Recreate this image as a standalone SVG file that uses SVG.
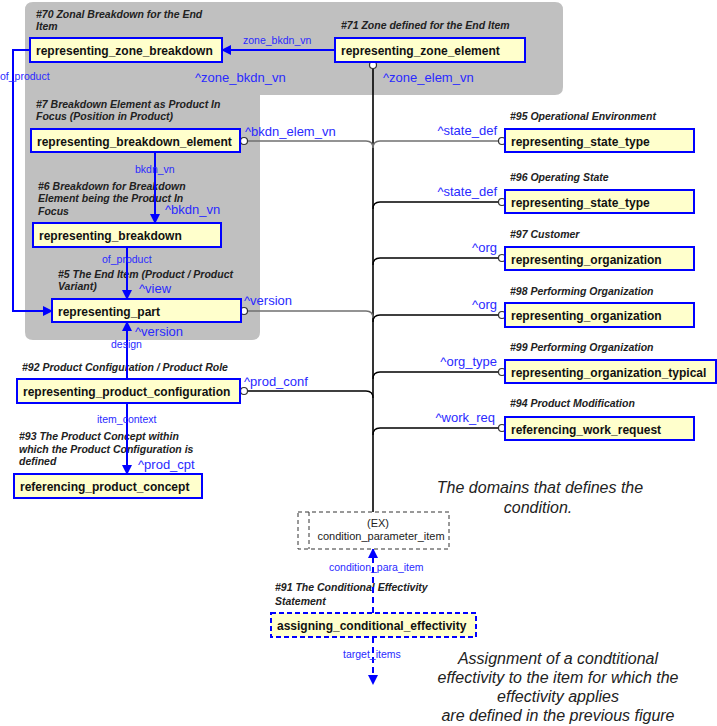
<svg xmlns="http://www.w3.org/2000/svg" width="717" height="726" viewBox="0 0 717 726">
<style>
.bg{fill:#c0c0c0}
.nd{fill:#ffffcc;stroke:#0000ff;stroke-width:2}
.ndd{fill:#ffffcc;stroke:#0000ff;stroke-width:2;stroke-dasharray:5,3}
.nt{font-family:"Liberation Sans",Arial,sans-serif;font-size:12px;font-weight:bold;fill:#111}
.hd{font-family:"Liberation Sans",Arial,sans-serif;font-size:10.5px;font-weight:bold;font-style:italic;fill:#222}
.bl{font-family:"Liberation Sans",Arial,sans-serif;font-size:13px;fill:#2a2aff}
.bs{font-family:"Liberation Sans",Arial,sans-serif;font-size:10.5px;fill:#2a2aff}
.ex{font-family:"Liberation Sans",Arial,sans-serif;font-size:11px;fill:#222}
.big{font-family:"Liberation Sans",Arial,sans-serif;font-size:16px;font-style:italic;fill:#222}
.ba{fill:none;stroke:#0000ff;stroke-width:2}
.bd{fill:none;stroke:#0000ff;stroke-width:2;stroke-dasharray:6,4}
.k{fill:none;stroke:#000;stroke-width:1.3}
.g{fill:none;stroke:#707070;stroke-width:1.5}
.c{fill:#fff;stroke:#333;stroke-width:1.2}
</style>
<defs>
<marker id="ah" markerWidth="10" markerHeight="10" refX="9" refY="5" orient="auto" markerUnits="userSpaceOnUse">
<path d="M0,0 L10,5 L0,10 Z" fill="#0000ff"/>
</marker>
</defs>
<path class="bg" d="M33,2 H555 Q563,2 563,10 V87 Q563,95 555,95 H260 V332 Q260,340 252,340 H33 Q25,340 25,332 V10 Q25,2 33,2 Z"/>
<text class="hd" x="36" y="18">#70 Zonal Breakdown for the End</text>
<text class="hd" x="36" y="30">Item</text>
<text class="hd" x="341" y="29">#71 Zone defined for the End Item</text>
<text class="hd" x="36" y="108">#7 Breakdown Element as Product In</text>
<text class="hd" x="36" y="120">Focus (Position in Product)</text>
<text class="hd" x="38" y="190">#6 Breakdown for Breakdown</text>
<text class="hd" x="38" y="202">Element being the Product In</text>
<text class="hd" x="38" y="215">Focus</text>
<text class="hd" x="58" y="278">#5 The End Item (Product / Product</text>
<text class="hd" x="58" y="290">Variant)</text>
<text class="hd" x="22" y="371">#92 Product Configuration / Product Role</text>
<text class="hd" x="19" y="440">#93 The Product Concept within</text>
<text class="hd" x="19" y="453">which the Product Configuration is</text>
<text class="hd" x="19" y="465">defined</text>
<text class="hd" x="510" y="120">#95 Operational Environment</text>
<text class="hd" x="510" y="181">#96 Operating State</text>
<text class="hd" x="510" y="238">#97 Customer</text>
<text class="hd" x="510" y="295">#98 Performing Organization</text>
<text class="hd" x="510" y="351">#99 Performing Organization</text>
<text class="hd" x="510" y="407">#94 Product Modification</text>
<text class="hd" x="275" y="591">#91 The Conditional Effectivity</text>
<text class="hd" x="275" y="605">Statement</text>
<g id="connectors">
<path class="ba" d="M335,50 H222" marker-end="url(#ah)"/>
<path class="ba" d="M30,50 H13 V311 H52" marker-end="url(#ah)"/>
<path class="ba" d="M155,152 V223" marker-end="url(#ah)"/>
<path class="ba" d="M127,247 V299" marker-end="url(#ah)"/>
<path class="ba" d="M127,379 V322" marker-end="url(#ah)"/>
<path class="ba" d="M127,403 V474" marker-end="url(#ah)"/>
<path class="k" style="stroke-width:1.6" d="M373,68.5 V512"/>
<circle class="c" cx="373" cy="65" r="3.5"/>
<path class="g" d="M247.5,141 H366 Q373,141 373,148"/>
<circle class="c" cx="244" cy="141" r="3.5"/>
<path class="g" d="M247.5,311 H366 Q373,311 373,318"/>
<circle class="c" cx="244" cy="311" r="3.5"/>
<path class="k" d="M247.5,391 H366 Q373,391 373,398"/>
<circle class="c" cx="244" cy="391" r="3.5"/>
<path class="g" d="M498.5,141 H380 Q373,141 373,148"/>
<circle class="c" cx="502" cy="141" r="3.5"/>
<path class="k" d="M498.5,202 H380 Q373,202 373,209"/>
<circle class="c" cx="502" cy="202" r="3.5"/>
<path class="k" d="M498.5,258 H380 Q373,258 373,265"/>
<circle class="c" cx="502" cy="258" r="3.5"/>
<path class="k" d="M498.5,315 H380 Q373,315 373,322"/>
<circle class="c" cx="502" cy="315" r="3.5"/>
<path class="k" d="M498.5,372 H380 Q373,372 373,379"/>
<circle class="c" cx="502" cy="372" r="3.5"/>
<path class="k" d="M498.5,428 H380 Q373,428 373,435"/>
<circle class="c" cx="502" cy="428" r="3.5"/>
<path class="bd" d="M373,613 V549" marker-end="url(#ah)"/>
<path class="bd" d="M373,637 V684" marker-end="url(#ah)"/>
<text class="bs" x="243" y="44">zone_bkdn_vn</text>
<text class="bl" x="195" y="82">^zone_bkdn_vn</text>
<text class="bl" x="383" y="82">^zone_elem_vn</text>
<text class="bs" x="0" y="80">of_product</text>
<text class="bl" x="245" y="136">^bkdn_elem_vn</text>
<text class="bs" x="135" y="173">bkdn_vn</text>
<text class="bl" x="165" y="214">^bkdn_vn</text>
<text class="bs" x="102" y="263">of_product</text>
<text class="bl" x="139" y="293">^view</text>
<text class="bl" x="244" y="305">^version</text>
<text class="bl" x="135" y="336">^version</text>
<text class="bs" x="111" y="348">design</text>
<text class="bl" x="244" y="386">^prod_conf</text>
<text class="bs" x="97" y="423">item_context</text>
<text class="bl" x="138" y="469">^prod_cpt</text>
<text class="bl" x="497" y="135" text-anchor="end">^state_def</text>
<text class="bl" x="497" y="196" text-anchor="end">^state_def</text>
<text class="bl" x="497" y="252" text-anchor="end">^org</text>
<text class="bl" x="497" y="309" text-anchor="end">^org</text>
<text class="bl" x="497" y="366" text-anchor="end">^org_type</text>
<text class="bl" x="495" y="422" text-anchor="end">^work_req</text>
<text class="bs" x="329" y="571">condition_para_item</text>
<text class="bs" x="343" y="658">target_items</text>
</g>
<g id="n70"><rect class="nd" x="30" y="38" width="192" height="24"/><text class="nt" x="36" y="55">representing_zone_breakdown</text></g>
<g id="n71"><rect class="nd" x="335" y="38" width="190" height="24"/><text class="nt" x="341" y="55">representing_zone_element</text></g>
<g id="n7"><rect class="nd" x="31" y="129" width="209" height="23"/><text class="nt" x="37" y="146">representing_breakdown_element</text></g>
<g id="n6"><rect class="nd" x="33" y="223" width="188" height="24"/><text class="nt" x="39" y="240">representing_breakdown</text></g>
<g id="n5"><rect class="nd" x="52" y="299" width="189" height="23"/><text class="nt" x="58" y="316">representing_part</text></g>
<g id="n92"><rect class="nd" x="17" y="379" width="223" height="24"/><text class="nt" x="23" y="396">representing_product_configuration</text></g>
<g id="n93"><rect class="nd" x="14" y="474" width="188" height="24"/><text class="nt" x="20" y="491">referencing_product_concept</text></g>
<g id="n95"><rect class="nd" x="505" y="129" width="189" height="23"/><text class="nt" x="511" y="146">representing_state_type</text></g>
<g id="n96"><rect class="nd" x="505" y="190" width="189" height="23"/><text class="nt" x="511" y="207">representing_state_type</text></g>
<g id="n97"><rect class="nd" x="505" y="247" width="189" height="23"/><text class="nt" x="511" y="264">representing_organization</text></g>
<g id="n98"><rect class="nd" x="505" y="303" width="189" height="24"/><text class="nt" x="511" y="320">representing_organization</text></g>
<g id="n99"><rect class="nd" x="505" y="360" width="211" height="23"/><text class="nt" x="511" y="377">representing_organization_typical</text></g>
<g id="n94"><rect class="nd" x="505" y="417" width="189" height="23"/><text class="nt" x="511" y="434">referencing_work_request</text></g>
<g id="nex">
<rect x="298" y="512" width="151" height="37" fill="#fff" stroke="#333" stroke-width="1" stroke-dasharray="4,3"/>
<line x1="309" y1="512" x2="309" y2="549" stroke="#333" stroke-width="1" stroke-dasharray="4,3"/>
<text class="ex" x="378" y="527" text-anchor="middle">(EX)</text>
<text class="ex" x="381" y="540" text-anchor="middle">condition_parameter_item</text>
</g>
<g id="n91"><rect class="ndd" x="271" y="613" width="205" height="24"/><text class="nt" x="277" y="630">assigning_conditional_effectivity</text></g>
<g id="notes">
<text class="big" x="540" y="493" text-anchor="middle">The domains that defines the</text>
<text class="big" x="538" y="513" text-anchor="middle">condition.</text>
<text class="big" x="558" y="664" text-anchor="middle">Assignment of a condtitional</text>
<text class="big" x="558" y="683" text-anchor="middle">effectivity to the item for which the</text>
<text class="big" x="558" y="702" text-anchor="middle">effectivity applies</text>
<text class="big" x="558" y="721" text-anchor="middle">are defined in the previous figure</text>
</g>
</svg>
